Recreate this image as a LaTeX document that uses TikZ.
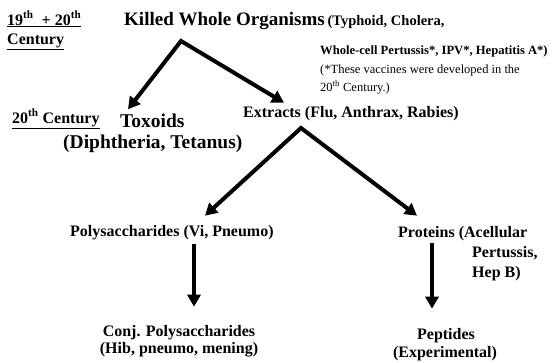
\documentclass[tikz,border=0pt]{standalone}
\usepackage{fontspec}
\setmainfont{Liberation Serif}
\usetikzlibrary{arrows.meta}
\newcommand{\sth}{\textsuperscript{th}}
\begin{document}
\begin{tikzpicture}[x=1pt,y=-1pt,
  lbl/.style={anchor=base west,inner sep=0pt,font=\bfseries\fontsize{#1}{#1}\selectfont},
  lbl/.default=16,
  ctr/.style={lbl=#1,anchor=base},
  ctr/.default=16,
  note/.style={anchor=base west,inner sep=0pt,font=\fontsize{12.5}{12.5}\selectfont},
  arr/.style={line width=4pt,line join=miter,-{Triangle[length=12pt,width=13pt]}},
  arrs/.style={line width=4pt,line join=miter,{Triangle[length=12pt,width=13pt]}-{Triangle[length=12pt,width=13pt]}}]
\useasboundingbox (0,0) rectangle (553,362);
% era labels
\node[lbl] (era1) at (7,25) {\underline{19\sth{} \ + 20\sth}};
\node[lbl] (era1b) at (7,44) {\underline{Century}};
\node[lbl] (era2) at (12,123) {\underline{20\sth{} Century}};
% top level
\node[lbl=19] (kwo) at (124,25) {Killed Whole Organisms};
\node[lbl=14.5] (kwoa) at (kwo.base east) {\,(Typhoid, Cholera,};
\node[lbl=12.6] (kwob) at (320,54) {Whole-cell Pertussis*, IPV*, Hepatitis A*)};
\node[note] (kwoc) at (320,73) {(*These vaccines were developed in the};
\node[note] (kwod) at (320,91) {20\sth{} Century.)};
% second level
\node[lbl=19.5] (tox) at (120,127) {Toxoids};
\node[lbl=19.5] (toxa) at (63,148) {(Diphtheria, Tetanus)};
\node[lbl] (ext) at (243,117) {Extracts (Flu, Anthrax, Rabies)};
% third level
\node[lbl] (poly) at (70,236) {Polysaccharides (Vi, Pneumo)};
\node[lbl] (prot) at (398,237) {Proteins (Acellular};
\node[lbl] (prota) at (472,257) {Pertussis,};
\node[lbl] (protb) at (472,277) {Hep B)};
% fourth level
\node[ctr] (conj) at (179,336) {Conj. Polysaccharides};
\node[ctr] (conja) at (179,353) {(Hib, pneumo, mening)};
\node[ctr] (pep) at (446,339) {Peptides};
\node[ctr] (pepa) at (445,357) {(Experimental)};
% connectors
\coordinate (fork1) at (181,41);
\coordinate (fork2) at (301,128);
\draw[arrs] ([shift={(8,-4)}]tox.north west) -- (fork1) -- ([shift={(41,-3)}]ext.north west);
\draw[arrs] ([shift={(135,-9)}]poly.north west) -- (fork2) -- ([shift={(19,-10)}]prot.north west);
\draw[arr] ([shift={(124,4)}]poly.south west) -- ([shift={(15,-18)}]conj.north);
\draw[arr] ([shift={(34,2)}]prot.south west) -- ([shift={(-14,-19)}]pep.north);
\end{tikzpicture}
\end{document}
